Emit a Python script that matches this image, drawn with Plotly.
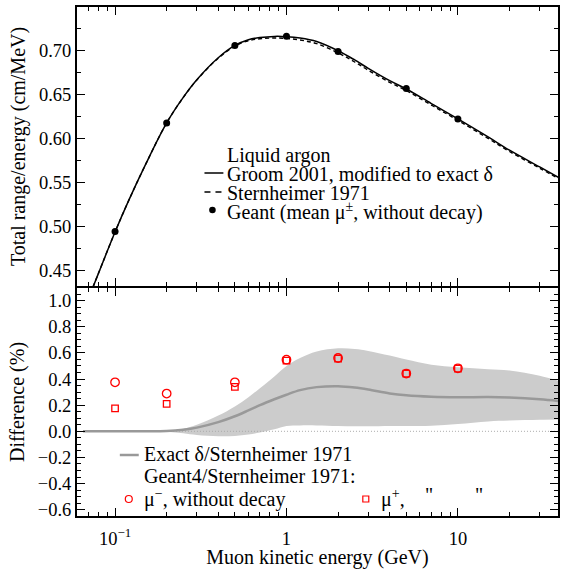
import plotly.graph_objects as go

# ---------------- data ----------------
energy_gev = [0.065, 0.07, 0.08, 0.1, 0.12, 0.15, 0.2, 0.25, 0.3, 0.4, 0.5, 0.6, 0.7, 0.85,
              1.0, 1.2, 1.5, 2.0, 2.5, 3.0, 4.0, 5.0, 7.0, 10.0, 15.0, 20.0, 30.0, 40.0]
groom_exact = [0.402, 0.4185, 0.447, 0.494, 0.5296, 0.570, 0.618, 0.647, 0.667, 0.692, 0.706,
               0.7125, 0.7150, 0.7163, 0.7160, 0.7145, 0.7105, 0.7000, 0.6895, 0.6800, 0.6660,
               0.6565, 0.6400, 0.6225, 0.6020, 0.5870, 0.5680, 0.5545]
sternheimer = [0.402, 0.4185, 0.447, 0.494, 0.5296, 0.570, 0.618, 0.6469, 0.6668, 0.6915, 0.7052,
               0.7114, 0.7136, 0.7145, 0.7140, 0.7122, 0.7081, 0.6976, 0.6872, 0.6778, 0.6641,
               0.6547, 0.6383, 0.6209, 0.6004, 0.5855, 0.5666, 0.5532]
diff_exact = [0, 0, 0, 0, 0, 0, 0.002, 0.012, 0.028, 0.07, 0.115, 0.16, 0.2, 0.245,
              0.28, 0.315, 0.338, 0.345, 0.335, 0.32, 0.29, 0.275, 0.264, 0.26, 0.262, 0.258, 0.245, 0.23]
band_upper = [0, 0, 0, 0, 0, 0, 0.003, 0.02, 0.05, 0.12, 0.19, 0.26, 0.33, 0.42,
              0.5, 0.56, 0.61, 0.635, 0.63, 0.615, 0.58, 0.55, 0.51, 0.49, 0.475, 0.465, 0.425, 0.38]
band_lower = [0, 0, 0, 0, 0, 0, -0.003, -0.015, -0.028, -0.037, -0.035, -0.025, -0.01, 0.015,
              0.04, 0.045, 0.045, 0.04, 0.038, 0.038, 0.04, 0.04, 0.042, 0.055, 0.075, 0.082, 0.088, 0.09]

geant_energy = [0.1, 0.2, 0.5, 1.0, 2.0, 5.0, 10.0]
geant_mean = [0.4945, 0.618, 0.706, 0.7165, 0.699, 0.657, 0.6225]
diff_mu_minus = [0.375, 0.289, 0.375, 0.548, 0.561, 0.442, 0.482]
diff_mu_plus = [0.175, 0.21, 0.34, 0.54, 0.556, 0.442, 0.48]

x_tick_vals = [0.1, 1, 10]
x_tick_text = ["10<sup>\u22121</sup>", "1", "10"]
x_minor_vals = [0.07, 0.08, 0.09, 0.2, 0.3, 0.4, 0.5, 0.6, 0.7, 0.8, 0.9,
                2, 3, 4, 5, 6, 7, 8, 9, 20, 30]
top_tick_vals = [0.45, 0.50, 0.55, 0.60, 0.65, 0.70]
bot_tick_vals = [-0.6, -0.4, -0.2, 0.0, 0.2, 0.4, 0.6, 0.8, 1.0]

# ---------------- layout geometry (pixels) ----------------
W, H = 562, 569
L, R, T, B = 77, 560, 7, 516
SPLIT = 287
FONT = "Liberation Serif"


def px(x):
    return (x - L) / (R - L)


def py(y):
    return (B - y) / (B - T)


fig = go.Figure()

# top panel
fig.add_trace(go.Scatter(x=energy_gev, y=sternheimer, mode="lines", xaxis="x2", yaxis="y2",
                         line=dict(color="black", width=1.4, dash="4px,3px", shape="spline"),
                         showlegend=False))
fig.add_trace(go.Scatter(x=energy_gev, y=groom_exact, mode="lines", xaxis="x2", yaxis="y2",
                         line=dict(color="black", width=1.5, shape="spline"), showlegend=False))
fig.add_trace(go.Scatter(x=geant_energy, y=geant_mean, mode="markers", xaxis="x2", yaxis="y2",
                         marker=dict(color="black", size=7, symbol="circle"), showlegend=False))

# bottom panel
fig.add_trace(go.Scatter(x=energy_gev, y=band_lower, mode="lines", xaxis="x", yaxis="y",
                         line=dict(width=0, color="#cccccc", shape="spline"), showlegend=False))
fig.add_trace(go.Scatter(x=energy_gev, y=band_upper, mode="lines", xaxis="x", yaxis="y",
                         line=dict(width=0, color="#cccccc", shape="spline"), fill="tonexty",
                         fillcolor="#cccccc", showlegend=False))
fig.add_trace(go.Scatter(x=[energy_gev[0], energy_gev[-1]], y=[0, 0], mode="lines",
                         xaxis="x", yaxis="y",
                         line=dict(width=1, color="#aaaaaa", dash="1px,2px"), showlegend=False))
fig.add_trace(go.Scatter(x=energy_gev, y=diff_exact, mode="lines", xaxis="x", yaxis="y",
                         line=dict(width=2.5, color="#999999", shape="spline"), showlegend=False))
fig.add_trace(go.Scatter(x=geant_energy, y=diff_mu_minus, mode="markers", xaxis="x", yaxis="y",
                         marker=dict(symbol="circle-open", size=8.5, color="red",
                                     line=dict(width=1.3, color="red")), showlegend=False))
fig.add_trace(go.Scatter(x=geant_energy, y=diff_mu_plus, mode="markers", xaxis="x", yaxis="y",
                         marker=dict(symbol="square-open", size=6.5, color="red",
                                     line=dict(width=1.3, color="red")), showlegend=False))

tickfont = dict(family=FONT, size=18.5, color="black")
common_x = dict(type="log", range=[-1.222, 1.584], showgrid=False, zeroline=False,
                showline=True, linecolor="black", linewidth=2, mirror="ticks",
                ticks="inside", ticklen=8, tickwidth=1.2, tickcolor="black",
                tickvals=x_tick_vals, ticktext=x_tick_text, tickfont=tickfont,
                minor=dict(ticks="inside", ticklen=4, tickwidth=1, tickcolor="black",
                           tickvals=x_minor_vals, showgrid=False))

# top panel domain ends 1px above the split, bottom panel starts 1px below it,
# so that both 2px axis lines coincide on the split line
bot_top = py(SPLIT + 1)
top_bot = py(SPLIT - 1)

fig.update_layout(
    width=W, height=H,
    margin=dict(l=L, r=W - R, t=T, b=H - B),
    paper_bgcolor="white", plot_bgcolor="white",
    font=dict(family=FONT, size=20, color="black"),
    xaxis=dict(**common_x, anchor="y", domain=[0, 1], ticklabelstandoff=5,
               title=dict(text="Muon kinetic energy (GeV)", font=dict(family=FONT, size=20),
                          standoff=3)),
    xaxis2=dict(**common_x, anchor="y2", matches="x", showticklabels=False),
    yaxis=dict(domain=[0, bot_top], range=[-0.648, 1.104 - 1 / 131.25], showgrid=False,
               zeroline=False,
               showline=True, linecolor="black", linewidth=2, mirror="ticks",
               ticks="inside", ticklen=8, tickwidth=1.2, tickcolor="black",
               tickvals=bot_tick_vals, tickformat=".1f", tickfont=tickfont,
               minor=dict(ticks="inside", ticklen=4, tickwidth=1, tickcolor="black", dtick=0.05,
                          showgrid=False),
               title=dict(text="Difference (%)", font=dict(family=FONT, size=20), standoff=8)),
    yaxis2=dict(domain=[top_bot, 1], range=[0.4315 + 1 / 880, 0.7497], showgrid=False,
                zeroline=False,
                showline=True, linecolor="black", linewidth=2, mirror="ticks",
                ticks="inside", ticklen=8, tickwidth=1.2, tickcolor="black",
                tickvals=top_tick_vals, tickformat=".2f", tickfont=tickfont,
                minor=dict(ticks="inside", ticklen=4, tickwidth=1, tickcolor="black", dtick=0.025,
                           showgrid=False),
                title=dict(text="Total range/energy (cm/MeV)", font=dict(family=FONT, size=20),
                           standoff=8)),
)

# ---------------- legend (annotations + sample shapes) ----------------
legend_font = dict(family=FONT, size=20, color="black")


def label(text, x, y):
    fig.add_annotation(text=text, x=px(x), y=py(y), xref="paper", yref="paper",
                       xanchor="left", yanchor="middle", showarrow=False, font=legend_font)


label("Liquid argon", 226, 155)
label("Groom 2001, modified to exact \u03b4", 226, 174)
label("Sternheimer 1971", 226, 193)
label("Geant (mean \u03bc<sup>\u00b1</sup>, without decay)", 226, 212)

fig.add_shape(type="line", xref="paper", yref="paper", x0=px(205), x1=px(224),
              y0=py(173), y1=py(173), line=dict(color="black", width=1.5))
fig.add_shape(type="line", xref="paper", yref="paper", x0=px(205), x1=px(225),
              y0=py(192), y1=py(192), line=dict(color="black", width=1.5, dash="6px,5px"))
fig.add_shape(type="circle", xref="paper", yref="paper", x0=px(209.7), x1=px(216.3),
              y0=py(213.3), y1=py(206.7), fillcolor="black", line=dict(color="black", width=0))

label("Exact \u03b4/Sternheimer 1971", 142, 454)
label("Geant4/Sternheimer 1971:", 142, 476)
label("\u03bc<sup>\u2212</sup>, without decay", 142, 498)
label("\u03bc<sup>+</sup>,", 380, 498)
label("\"", 424, 495)
label("\"", 475, 495)

fig.add_shape(type="line", xref="paper", yref="paper", x0=px(120), x1=px(139),
              y0=py(455), y1=py(455), line=dict(color="#999999", width=2.5))
fig.add_shape(type="circle", xref="paper", yref="paper", x0=px(125.5), x1=px(132.5),
              y0=py(502.5), y1=py(495.5), line=dict(color="red", width=1.2))
fig.add_shape(type="rect", xref="paper", yref="paper", x0=px(364), x1=px(370),
              y0=py(502), y1=py(496), line=dict(color="red", width=1.2))

fig.write_html("out.html")
